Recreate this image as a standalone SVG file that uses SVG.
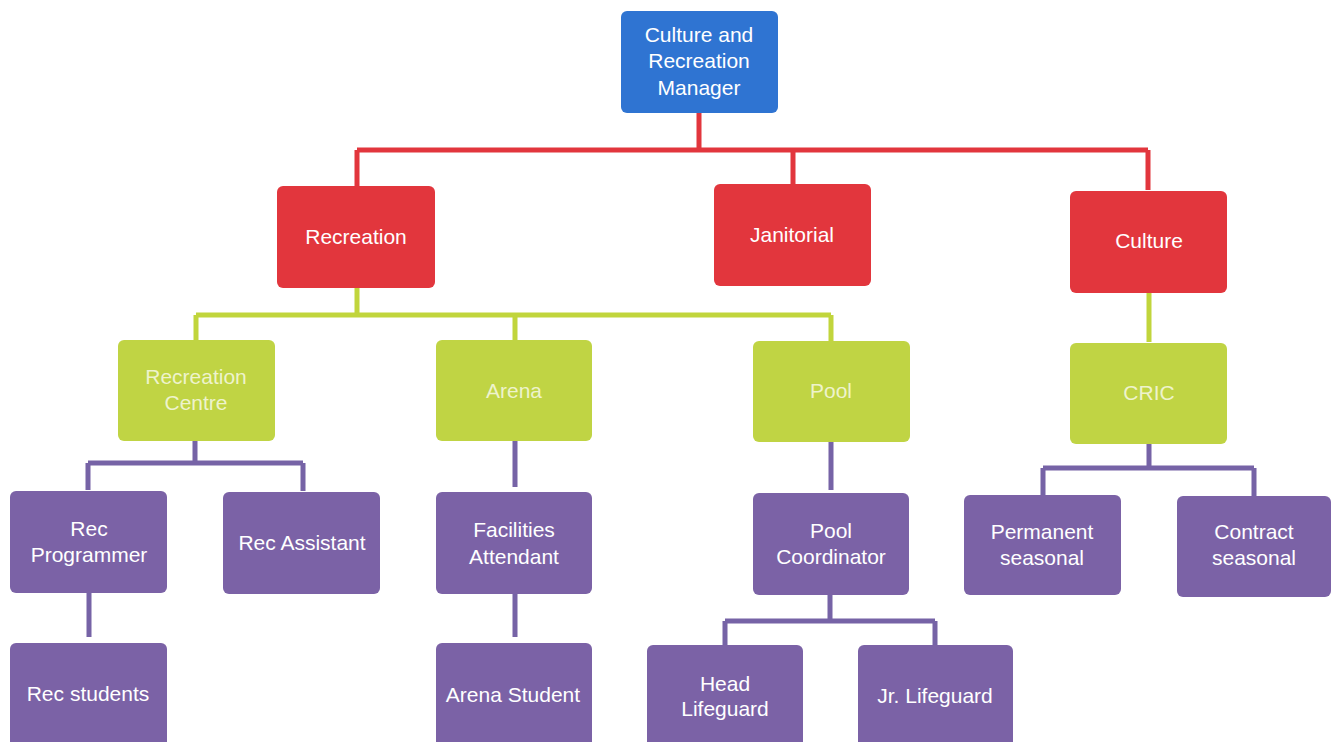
<svg xmlns="http://www.w3.org/2000/svg" width="1334" height="742" viewBox="0 0 1334 742">
<style>
.n{stroke:none}
.blue{fill:#2f74d2}
.red{fill:#e2363d}
.green{fill:#c0d444}
.purple{fill:#7b62a6}
text{font-family:"Liberation Sans",Arial,sans-serif;font-size:21px;fill:#ffffff;text-anchor:middle}
.gt{fill:#eef3cc}
.lr{stroke:#e2363d;stroke-width:5;fill:none}
.lg{stroke:#c1d53c;stroke-width:5;fill:none}
.lp{stroke:#7663a6;stroke-width:5;fill:none}
</style>
<rect width="1334" height="742" fill="#ffffff"/>
<g id="connectors">
<path class="lr" d="M699 113V150M357 150H1148M357 150V186M793 150V184M1148 150V190"/>
<path class="lg" d="M357 288V315M196 315H831M196 315V340M515 315V340M831 315V341M1149 293V342"/>
<path class="lp" d="M195 441V463M88 463H303M88 463V490M303 463V491M89 593V637"/>
<path class="lp" d="M515 441V487M515 594V637"/>
<path class="lp" d="M831 442V490M830 595V621M725 621H935M725 621V645M935 621V645"/>
<path class="lp" d="M1149 444V468M1043 468H1254M1043 468V495M1254 468V496"/>
</g>
<g id="manager"><rect class="n blue" x="621" y="11" width="157" height="102" rx="6"/><text x="699" y="42">Culture and</text><text x="699" y="68">Recreation</text><text x="699" y="95">Manager</text></g>
<g id="recreation"><rect class="n red" x="277" y="186" width="158" height="102" rx="6"/><text x="356" y="244">Recreation</text></g>
<g id="janitorial"><rect class="n red" x="714" y="184" width="157" height="102" rx="6"/><text x="792" y="242">Janitorial</text></g>
<g id="culture"><rect class="n red" x="1070" y="191" width="157" height="102" rx="6"/><text x="1149" y="248">Culture</text></g>
<g id="rec-centre"><rect class="n green" x="118" y="340" width="157" height="101" rx="6"/><text class="gt" x="196" y="384">Recreation</text><text class="gt" x="196" y="410">Centre</text></g>
<g id="arena"><rect class="n green" x="436" y="340" width="156" height="101" rx="6"/><text class="gt" x="514" y="398">Arena</text></g>
<g id="pool"><rect class="n green" x="753" y="341" width="157" height="101" rx="6"/><text class="gt" x="831" y="398">Pool</text></g>
<g id="cric"><rect class="n green" x="1070" y="343" width="157" height="101" rx="6"/><text class="gt" x="1149" y="400">CRIC</text></g>
<g id="rec-programmer"><rect class="n purple" x="10" y="491" width="157" height="102" rx="6"/><text x="89" y="536">Rec</text><text x="89" y="562">Programmer</text></g>
<g id="rec-assistant"><rect class="n purple" x="223" y="492" width="157" height="102" rx="6"/><text x="302" y="550">Rec Assistant</text></g>
<g id="rec-students"><rect class="n purple" x="10" y="643" width="157" height="104" rx="6"/><text x="88" y="701">Rec students</text></g>
<g id="facilities-attendant"><rect class="n purple" x="436" y="492" width="156" height="102" rx="6"/><text x="514" y="537">Facilities</text><text x="514" y="564">Attendant</text></g>
<g id="arena-student"><rect class="n purple" x="436" y="643" width="156" height="104" rx="6"/><text x="513" y="702">Arena Student</text></g>
<g id="pool-coordinator"><rect class="n purple" x="753" y="493" width="156" height="102" rx="6"/><text x="831" y="538">Pool</text><text x="831" y="564">Coordinator</text></g>
<g id="head-lifeguard"><rect class="n purple" x="647" y="645" width="156" height="102" rx="6"/><text x="725" y="691">Head</text><text x="725" y="716">Lifeguard</text></g>
<g id="jr-lifeguard"><rect class="n purple" x="858" y="645" width="155" height="102" rx="6"/><text x="935" y="703">Jr. Lifeguard</text></g>
<g id="permanent-seasonal"><rect class="n purple" x="964" y="495" width="157" height="100" rx="6"/><text x="1042" y="539">Permanent</text><text x="1042" y="565">seasonal</text></g>
<g id="contract-seasonal"><rect class="n purple" x="1177" y="496" width="154" height="101" rx="6"/><text x="1254" y="539">Contract</text><text x="1254" y="565">seasonal</text></g>
</svg>
